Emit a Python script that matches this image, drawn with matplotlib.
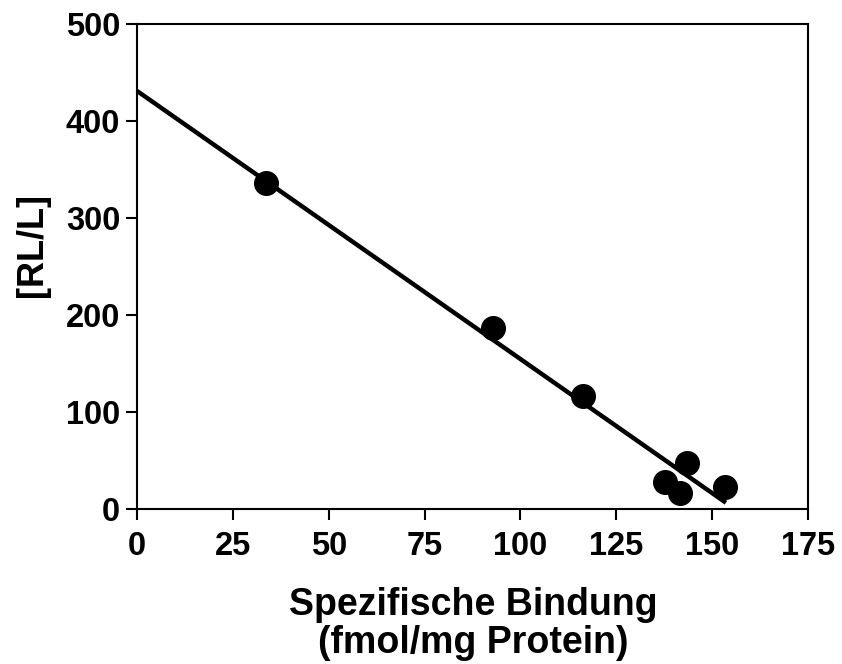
import matplotlib.pyplot as plt
import numpy as np

plt.rcParams['font.family'] = ['Liberation Sans', 'DejaVu Sans']
plt.rcParams['font.weight'] = 'bold'

# Scatchard data
bound = [33.6, 92.8, 116.4, 137.7, 143.4, 141.6, 153.4]
ratio = [336, 186.5, 116.3, 28.1, 47.6, 16.1, 23.0]

# regression line
fit_intercept = 431
fit_slope = -2.764
fit_x = [0, 153.6]

x_ticks = [0, 25, 50, 75, 100, 125, 150, 175]
y_ticks = [0, 100, 200, 300, 400, 500]

fig = plt.figure(figsize=(8.42, 6.64), dpi=100)
ax = fig.add_axes([137 / 842, 1 - 509 / 664, (808 - 137) / 842, (509 - 24) / 664])

xs = np.array(fit_x)
ax.plot(xs, fit_intercept + fit_slope * xs, color='black', lw=3.2,
        solid_capstyle='butt', clip_on=False, zorder=2)
ax.plot(bound, ratio, 'o', color='black', ms=17, zorder=3, clip_on=False)

ax.set_xlim(0, 175)
ax.set_ylim(0, 500)
ax.set_xticks(x_ticks)
ax.set_yticks(y_ticks)
ax.tick_params(direction='out', length=8, width=1.5, labelsize=23.5)
ax.tick_params(axis='x', pad=8)
ax.tick_params(axis='y', pad=4)
for s in ax.spines.values():
    s.set_linewidth(1.5)

fig.text(473 / 842, 1 - 624 / 664, 'Spezifische Bindung\n(fmol/mg Protein)',
         fontsize=27, fontweight='bold', ha='center', va='center',
         linespacing=1.08)
fig.text(32 / 842, 1 - 245 / 664, '[RL/L]', fontsize=26, fontweight='bold',
         rotation=90, ha='center', va='center')

fig.savefig('out.png', dpi=100, facecolor='white')
